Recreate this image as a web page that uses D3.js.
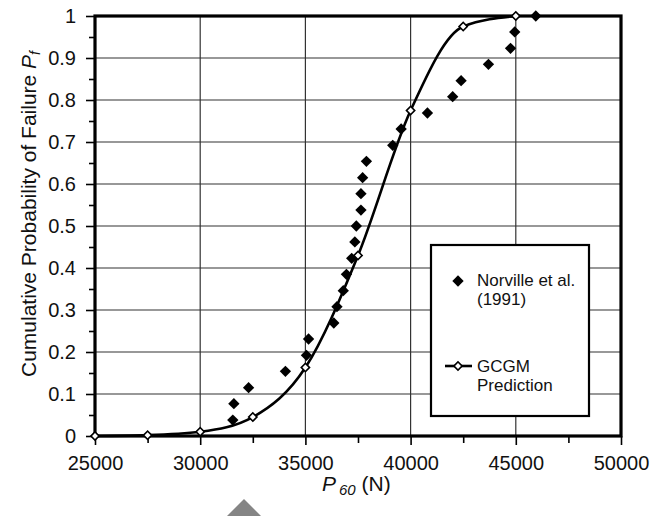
<!DOCTYPE html>
<html>
<head>
<meta charset="utf-8">
<script src="https://cdn.jsdelivr.net/npm/d3@7"></script>
<style>
  html, body { margin: 0; padding: 0; background: #fff; }
  svg { display: block; font-family: "Liberation Sans", Arial, sans-serif; }
</style>
</head>
<body>
<svg id="chart" width="668" height="516"></svg>
<script>
// ---- data ----
const norvilleP60 = [31550, 31600, 32300, 34050, 35050, 35150, 36350, 36500, 36800, 36950,
                     37200, 37350, 37420, 37640, 37640, 37720, 37900, 39150, 39550, 40800,
                     42000, 42400, 43700, 44750, 44950, 45950];
const norvillePf  = [0.038, 0.077, 0.115, 0.154, 0.192, 0.231, 0.269, 0.308, 0.346, 0.385,
                     0.423, 0.462, 0.500, 0.538, 0.577, 0.615, 0.654, 0.692, 0.731, 0.769,
                     0.808, 0.846, 0.885, 0.923, 0.962, 1.0];
const gcgmP60 = [25000, 27500, 30000, 32500, 35000, 37500, 40000, 42500, 45000];
const gcgmPf  = [0.0, 0.002, 0.01, 0.045, 0.163, 0.43, 0.775, 0.975, 1.0];
const xTickValues = [25000, 30000, 35000, 40000, 45000, 50000];
const xMinorTickValues = [27500, 32500, 37500, 42500, 47500];
const yTickValues = [0, 0.1, 0.2, 0.3, 0.4, 0.5, 0.6, 0.7, 0.8, 0.9, 1];
const yMinorTickValues = [0.05, 0.15, 0.25, 0.35, 0.45, 0.55, 0.65, 0.75, 0.85, 0.95];
const legendLabels = [["Norville et al.", "(1991)"], ["GCGM", "Prediction"]];

// ---- layout ----
const svg = d3.select("#chart");
const L = 95, R = 621, T = 16, B = 436;
const x = d3.scaleLinear().domain([25000, 50000]).range([L, R]);
const y = d3.scaleLinear().domain([0, 1]).range([B, T]);

// gridlines
const grid = svg.append("g");
grid.selectAll("line.v").data(xTickValues.slice(1, -1)).join("line")
  .attr("x1", d => x(d)).attr("x2", d => x(d)).attr("y1", T).attr("y2", B)
  .attr("stroke", "#333").attr("stroke-width", 1.2);
grid.selectAll("line.h").data(yTickValues.slice(1, -1)).join("line")
  .attr("x1", L).attr("x2", R).attr("y1", d => y(d)).attr("y2", d => y(d))
  .attr("stroke", "#333").attr("stroke-width", 1.2);

// axes
const xAxis = svg.append("g").attr("transform", `translate(0,${B})`)
  .call(d3.axisBottom(x).tickValues(xTickValues).tickFormat(d3.format("d")).tickSize(9).tickPadding(11));
const xMinor = svg.append("g").attr("transform", `translate(0,${B})`)
  .call(d3.axisBottom(x).tickValues(xMinorTickValues).tickFormat("").tickSize(7));
const yAxis = svg.append("g").attr("transform", `translate(${L},0)`)
  .call(d3.axisLeft(y).tickValues(yTickValues).tickFormat(d3.format("")).tickSize(9).tickPadding(10));
const yMinor = svg.append("g").attr("transform", `translate(${L},0)`)
  .call(d3.axisLeft(y).tickValues(yMinorTickValues).tickFormat("").tickSize(6));
[xAxis, xMinor, yAxis, yMinor].forEach(g => {
  g.select(".domain").remove();
  g.selectAll(".tick line").attr("stroke", "#000").attr("stroke-width", 1.6);
  g.selectAll(".tick text").attr("fill", "#111").attr("font-size", "20px")
    .attr("font-family", "'Liberation Sans', Arial, sans-serif");
});

// plot border
svg.append("rect").attr("x", L).attr("y", T).attr("width", R - L).attr("height", B - T)
  .attr("fill", "none").attr("stroke", "#000").attr("stroke-width", 3.2);

// GCGM line
const gcgm = gcgmP60.map((v, i) => [v, gcgmPf[i]]);
const line = d3.line().x(d => x(d[0])).y(d => y(d[1])).curve(d3.curveMonotoneX);
svg.append("path").datum(gcgm).attr("d", line)
  .attr("fill", "none").attr("stroke", "#000").attr("stroke-width", 2.6);

const filledDiamond = d3.symbol(d3.symbolSquare, 64)();
const openDiamond = d3.symbol(d3.symbolSquare, 34)();

// Norville points
const norville = norvilleP60.map((v, i) => [v, norvillePf[i]]);
svg.append("g").selectAll("path").data(norville).join("path")
  .attr("d", filledDiamond)
  .attr("transform", d => `translate(${x(d[0])},${y(d[1])}) rotate(45)`)
  .attr("fill", "#000");

// GCGM markers
svg.append("g").selectAll("path").data(gcgm).join("path")
  .attr("d", openDiamond)
  .attr("transform", d => `translate(${x(d[0])},${y(d[1])}) rotate(45)`)
  .attr("fill", "#fff").attr("stroke", "#000").attr("stroke-width", 1.6);

// legend
const lg = svg.append("g");
lg.append("rect").attr("x", 431).attr("y", 245).attr("width", 158).attr("height", 171)
  .attr("fill", "#fff").attr("stroke", "#000").attr("stroke-width", 2.2);
lg.append("path").attr("d", filledDiamond)
  .attr("transform", "translate(458,281) rotate(45)").attr("fill", "#000");
lg.append("line").attr("x1", 445).attr("x2", 472).attr("y1", 366).attr("y2", 366)
  .attr("stroke", "#000").attr("stroke-width", 2.6);
lg.append("path").attr("d", openDiamond)
  .attr("transform", "translate(458,366) rotate(45)")
  .attr("fill", "#fff").attr("stroke", "#000").attr("stroke-width", 1.6);
const legendY = [[286, 305], [372, 391]];
legendLabels.forEach((lines, i) => {
  lines.forEach((t, j) => {
    lg.append("text").attr("x", 477).attr("y", legendY[i][j]).text(t)
      .attr("font-size", "17px").attr("fill", "#111");
  });
});

// axis titles
const xt = svg.append("text").attr("x", 322).attr("y", 491).attr("font-size", "21px").attr("fill", "#111");
xt.append("tspan").attr("font-style", "italic").text("P");
xt.append("tspan").attr("font-style", "italic").attr("font-size", "15px").attr("dx", 3).attr("dy", 4).text("60");
xt.append("tspan").attr("dy", -4).text(" (N)");

const yt = svg.append("text").attr("transform", "translate(36,214) rotate(-90)")
  .attr("text-anchor", "middle").attr("font-size", "21px").attr("fill", "#111");
yt.append("tspan").text("Cumulative Probability of Failure ");
yt.append("tspan").attr("font-style", "italic").text("P");
yt.append("tspan").attr("font-style", "italic").attr("font-size", "14px").attr("dy", 4).text("f");

// scan artifact: grey triangle at bottom
svg.append("path").attr("d", "M244,499 L261,516 L227,516 Z").attr("fill", "#858585");
</script>
</body>
</html>
